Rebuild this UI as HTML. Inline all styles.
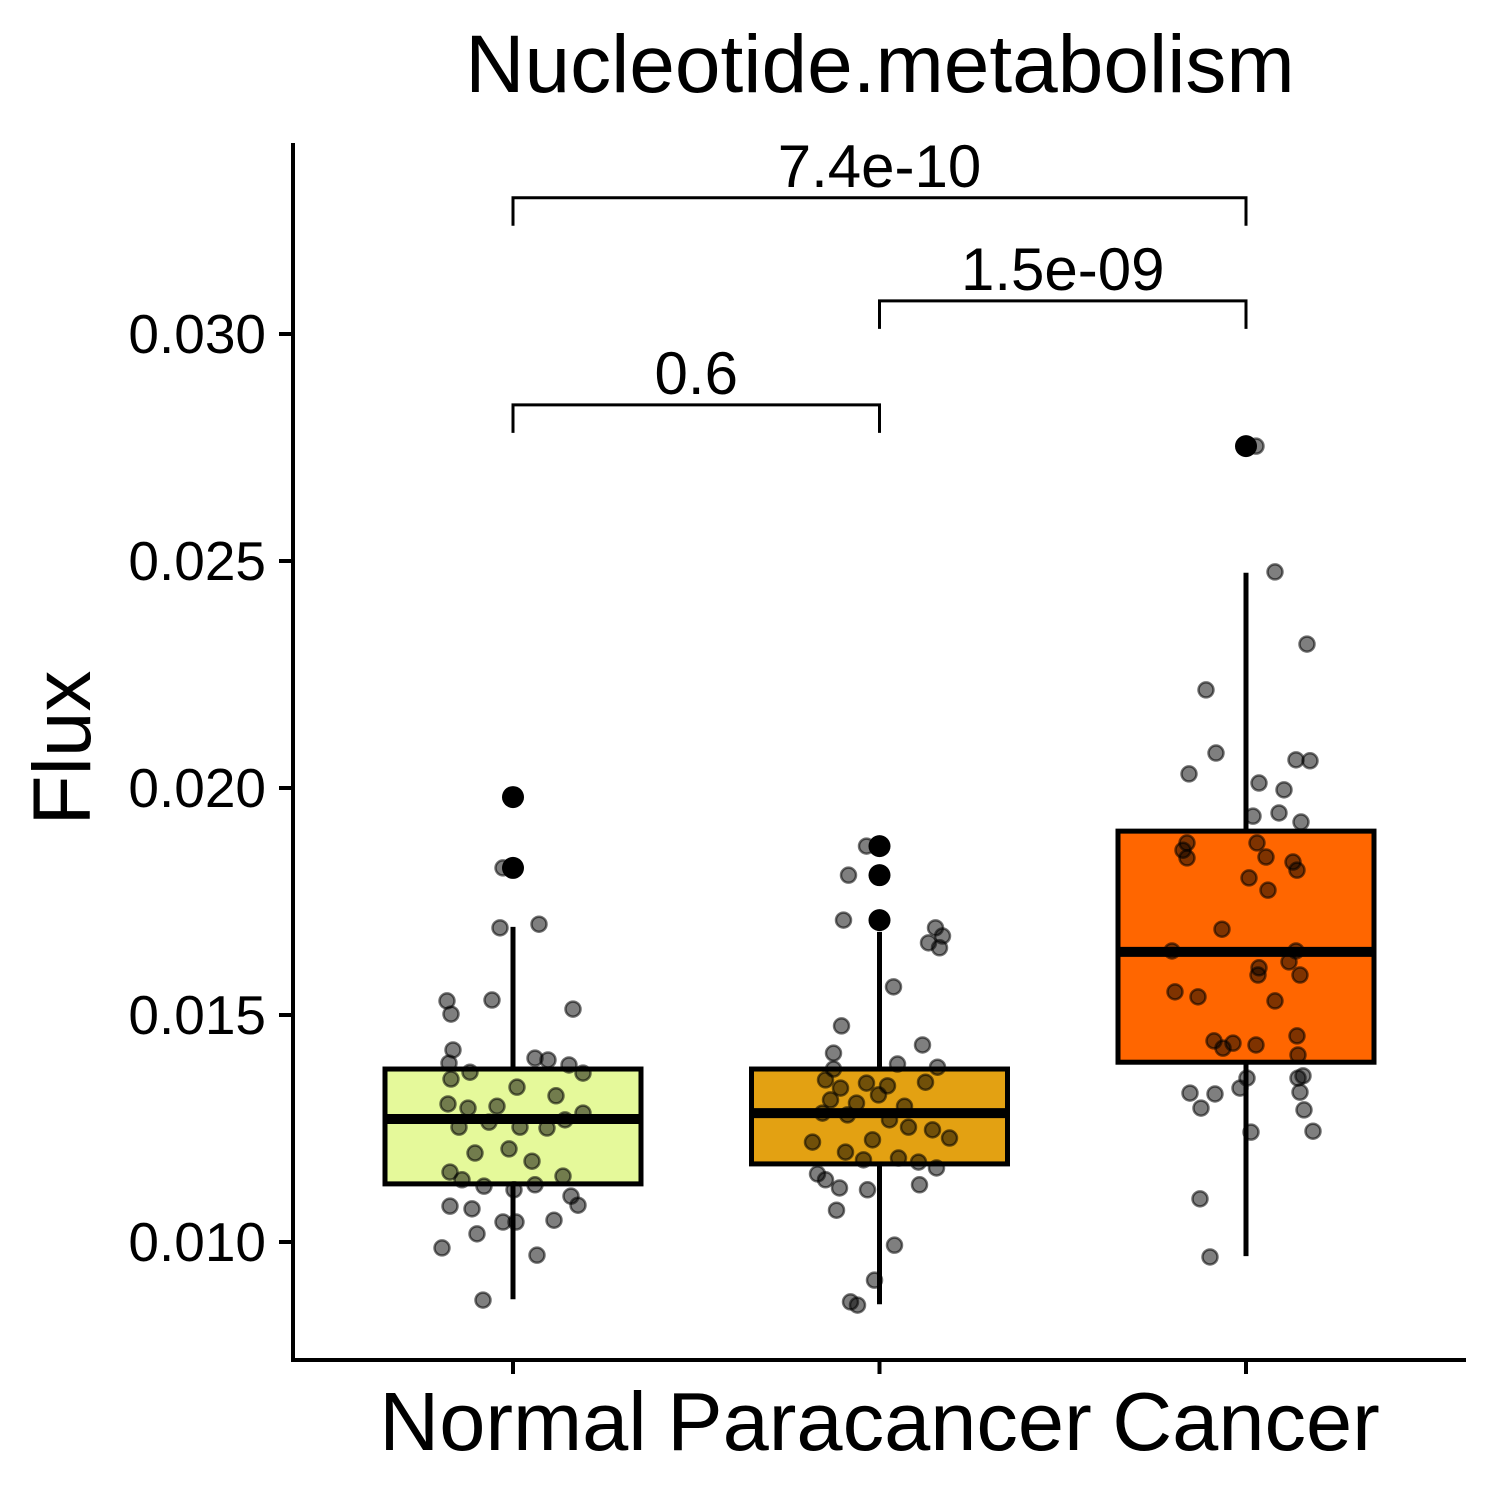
<!DOCTYPE html>
<html><head><meta charset="utf-8"><style>
html,body{margin:0;padding:0;background:#fff}
svg{display:block;font-family:"Liberation Sans",sans-serif}
</style></head><body>
<svg id="chart" width="1500" height="1500" viewBox="0 0 1500 1500">
<text x="880" y="92" font-size="82" text-anchor="middle">Nucleotide.metabolism</text>
<text transform="translate(90,748) rotate(-90)" font-size="82" text-anchor="middle">Flux</text>
<g id="boxes"></g>
<g id="points"></g>
<g id="axes"></g>
<g id="brackets"></g>
</svg>
<script>
const categories=["Normal","Paracancer","Cancer"];
const fills=["#E5F99A","#E3A112","#FF6600"];
const q1=[0.01128,0.01172,0.01396];
const medians=[0.01271,0.01284,0.01639];
const q3=[0.01381,0.01381,0.01905];
const whiskLo=[0.00874,0.00863,0.00969];
const whiskHi=[0.01694,0.01683,0.02474];
const outliers=[[0.01980,0.01824],[0.01872,0.01808,0.01709],[0.02753]];
const normalFlux=[0.01980,0.01824,0.01824,0.01692,0.01700,0.01531,0.01533,0.01513,0.01502,0.01423,0.01394,0.01405,0.01401,0.01390,0.01372,0.01374,0.01359,0.01341,0.01322,0.01304,0.01295,0.01299,0.01284,0.01269,0.01253,0.01264,0.01253,0.01251,0.01205,0.01196,0.01178,0.01154,0.01145,0.01137,0.01126,0.01123,0.01115,0.01101,0.01081,0.01079,0.01073,0.01044,0.01048,0.01044,0.01018,0.00987,0.00971,0.00872];
const normalJit=[1,-10,1,-13,26,-66,-21,60,-62,-60,-64,22,35,56,70,-43,-62,4,43,-65,-45,-16,70,52,-54,-24,7,34,-4,-38,19,-63,50,-51,22,-29,1,58,65,-63,-41,-10,41,3,-36,-71,24,-30];
const paraFlux=[0.01872,0.01872,0.01808,0.01808,0.01709,0.01692,0.01674,0.01659,0.01648,0.01562,0.01476,0.01416,0.01434,0.01392,0.01385,0.01381,0.01357,0.01350,0.01339,0.01352,0.01344,0.01324,0.01313,0.01306,0.01299,0.01284,0.01280,0.01269,0.01253,0.01247,0.01220,0.01225,0.01229,0.01198,0.01181,0.01185,0.01176,0.01163,0.01150,0.01137,0.01126,0.01119,0.01115,0.01070,0.00993,0.00916,0.00868,0.00861];
const paraJit=[-13,0,-31,0,-36,56,63,49,60,14,-38,-46,43,18,58,-46,-54,-13,-39,46,8,-1,-49,-23,25,-57,-32,10,29,53,-67,-7,70,-34,-16,19,39,57,-62,-54,40,-40,-12,-43,15,-5,-29,-22];
const cancerFlux=[0.02753,0.02753,0.02476,0.02317,0.02216,0.02077,0.02031,0.02011,0.02062,0.02060,0.01996,0.01938,0.01945,0.01925,0.01879,0.01863,0.01879,0.01848,0.01837,0.01819,0.01846,0.01802,0.01775,0.01689,0.01641,0.01641,0.01617,0.01604,0.01588,0.01588,0.01551,0.01540,0.01531,0.01438,0.01443,0.01427,0.01434,0.01454,0.01412,0.01366,0.01361,0.01361,0.01339,0.01328,0.01326,0.01330,0.01295,0.01291,0.01242,0.01244,0.01095,0.00967];
const cancerJit=[0,10,29,61,-40,-30,-57,13,50,64,38,7,33,55,-59,-63,11,20,47,51,-59,3,22,-24,-74,50,43,13,12,54,-71,-48,29,-13,-32,-23,10,51,52,57,52,1,-6,-56,-31,54,-45,58,5,67,-46,-36];
const fluxSets=[normalFlux,paraFlux,cancerFlux];
const jitSets=[normalJit,paraJit,cancerJit];
const yTicks=[0.010,0.015,0.020,0.025,0.030];
const yTickLabels=["0.010","0.015","0.020","0.025","0.030"];
const comparisons=[[0,2,"7.4e-10",0.0330],[1,2,"1.5e-09",0.03073],[0,1,"0.6",0.02844]];

const NS="http://www.w3.org/2000/svg";
const y=v=>1242-(v-0.010)*45400;
const x=i=>513+i*366.5;
const BW=256;
function mk(tag,attrs,parent){const e=document.createElementNS(NS,tag);for(const k in attrs)e.setAttribute(k,attrs[k]);parent.appendChild(e);return e;}
const gB=document.getElementById('boxes'),gP=document.getElementById('points'),gA=document.getElementById('axes'),gK=document.getElementById('brackets');
categories.forEach((c,i)=>{
  const cx=x(i);
  const wl=mk('line',{x1:cx,x2:cx,y1:y(whiskHi[i]),y2:y(whiskLo[i]),stroke:'#000','stroke-width':5},gB);
  
  
  const r=mk('rect',{x:cx-BW/2,y:y(q3[i]),width:BW,height:y(q1[i])-y(q3[i]),fill:fills[i],stroke:'#000','stroke-width':5},gB);
  
  
  const m=mk('line',{x1:cx-BW/2,x2:cx+BW/2,y1:y(medians[i]),y2:y(medians[i]),stroke:'#000','stroke-width':10},gB);
  
  
  outliers[i].forEach(v=>{
    const o=mk('circle',{cx:cx,cy:y(v),r:11,fill:'#000'},gB);
    
    
  });
  fluxSets[i].forEach((v,j)=>{
    const p=mk('circle',{cx:cx+jitSets[i][j],cy:y(v),r:7.5,fill:'rgba(0,0,0,0.5)',stroke:'rgba(0,0,0,0.55)','stroke-width':2.5},gP);
    
    
  });
  const t=mk('line',{x1:cx,x2:cx,y1:1360,y2:1374,stroke:'#000','stroke-width':4},gA);
  
  
  const l=mk('text',{x:cx,y:1450,'font-size':83,'text-anchor':'middle'},gA);
  l.textContent=c;
  
  
});
const ya=mk('line',{x1:293,x2:293,y1:143,y2:1362,stroke:'#000','stroke-width':4},gA);


const xa=mk('line',{x1:291,x2:1466,y1:1360,y2:1360,stroke:'#000','stroke-width':4},gA);


yTicks.forEach((v,i)=>{
  const t=mk('line',{x1:279,x2:293,y1:y(v),y2:y(v),stroke:'#000','stroke-width':4},gA);
  
  
  const l=mk('text',{x:266,y:y(v)+19,'font-size':55,'text-anchor':'end'},gA);
  l.textContent=yTickLabels[i];
  
  
});
comparisons.forEach(([a,b,lab,v])=>{
  const yy=y(v);
  const p=mk('path',{d:`M${x(a)},${yy+28}V${yy}H${x(b)}V${yy+28}`,fill:'none',stroke:'#000','stroke-width':3},gK);
  
  
  const t=mk('text',{x:(x(a)+x(b))/2,y:yy-11,'font-size':60,'text-anchor':'middle'},gK);
  t.textContent=lab;
  
  
});
</script>
</body></html>
